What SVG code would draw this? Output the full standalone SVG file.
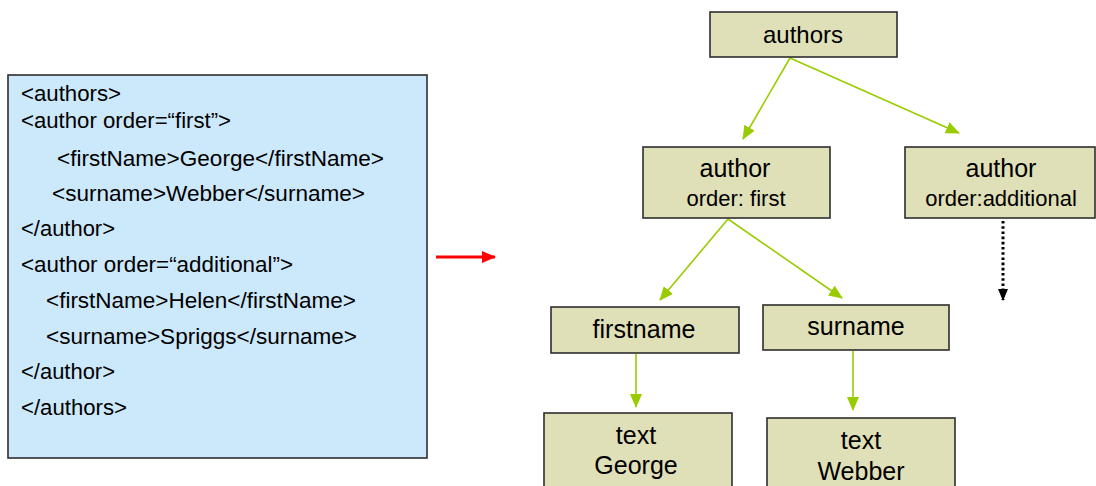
<svg xmlns="http://www.w3.org/2000/svg" width="1096" height="486" viewBox="0 0 1096 486">
  <style>
    .code { font-family: "Liberation Sans", Arial, sans-serif; font-size: 22px; fill: #000; }
    .box { fill: #dfdfb8; stroke: #2e2e2e; stroke-width: 1.6; }
    .lbl { font-family: "Liberation Sans", Arial, sans-serif; font-size: 25px; fill: #000; text-anchor: middle; }
    .sub { font-family: "Liberation Sans", Arial, sans-serif; font-size: 22px; fill: #000; text-anchor: middle; }
    .edge { stroke: #99cc00; stroke-width: 1.6; fill: none; marker-end: url(#greenHead); }
  </style>
  <defs>
    <marker id="greenHead" markerUnits="userSpaceOnUse" markerWidth="14" markerHeight="12" viewBox="0 0 14 12" refX="13" refY="6" orient="auto">
      <path d="M0,0 L14,6 L0,12 Z" fill="#99cc00"/>
    </marker>
    <marker id="redHead" markerUnits="userSpaceOnUse" markerWidth="14" markerHeight="12" viewBox="0 0 14 12" refX="13" refY="6" orient="auto">
      <path d="M0,0 L14,6 L0,12 Z" fill="#ff0000"/>
    </marker>
    <marker id="blackHead" markerUnits="userSpaceOnUse" markerWidth="12" markerHeight="10" viewBox="0 0 12 10" refX="11" refY="5" orient="auto">
      <path d="M0,0 L12,5 L0,10 Z" fill="#000"/>
    </marker>
  </defs>

  <!-- XML source listing -->
  <g id="xml-source">
    <rect x="8" y="75" width="419" height="383" fill="#cce9fb" stroke="#2e2e2e" stroke-width="1.6"/>
    <text class="code" x="21" y="101" textLength="100" lengthAdjust="spacingAndGlyphs">&lt;authors&gt;</text>
    <text class="code" x="21" y="128" textLength="210" lengthAdjust="spacingAndGlyphs">&lt;author order=“first”&gt;</text>
    <text class="code" x="57" y="166" textLength="327" lengthAdjust="spacingAndGlyphs">&lt;firstName&gt;George&lt;/firstName&gt;</text>
    <text class="code" x="52" y="201" textLength="313" lengthAdjust="spacingAndGlyphs">&lt;surname&gt;Webber&lt;/surname&gt;</text>
    <text class="code" x="21" y="236" textLength="94" lengthAdjust="spacingAndGlyphs">&lt;/author&gt;</text>
    <text class="code" x="21" y="272" textLength="272" lengthAdjust="spacingAndGlyphs">&lt;author order=“additional”&gt;</text>
    <text class="code" x="46" y="308" textLength="310" lengthAdjust="spacingAndGlyphs">&lt;firstName&gt;Helen&lt;/firstName&gt;</text>
    <text class="code" x="46" y="344" textLength="311" lengthAdjust="spacingAndGlyphs">&lt;surname&gt;Spriggs&lt;/surname&gt;</text>
    <text class="code" x="21" y="379" textLength="94" lengthAdjust="spacingAndGlyphs">&lt;/author&gt;</text>
    <text class="code" x="21" y="415" textLength="106" lengthAdjust="spacingAndGlyphs">&lt;/authors&gt;</text>
  </g>

  <!-- connectors -->
  <g id="connectors">
    <line x1="436" y1="257" x2="495" y2="257" stroke="#ff0000" stroke-width="3.2" marker-end="url(#redHead)"/>
    <line class="edge" x1="790" y1="58" x2="743" y2="139"/>
    <line class="edge" x1="790" y1="58" x2="959" y2="133"/>
    <line class="edge" x1="728" y1="219" x2="660" y2="300"/>
    <line class="edge" x1="728" y1="219" x2="842" y2="298"/>
    <line class="edge" x1="636" y1="354" x2="636" y2="407"/>
    <line class="edge" x1="853" y1="351" x2="853" y2="410"/>
    <line x1="1003" y1="221" x2="1003" y2="300" stroke="#000" stroke-width="3" stroke-dasharray="2.6 2.6" marker-end="url(#blackHead)"/>
  </g>

  <!-- tree nodes -->
  <g id="node-authors">
    <rect class="box" x="710" y="12" width="187" height="45"/>
    <text class="lbl" x="803" y="43" style="font-size:24px">authors</text>
  </g>
  <g id="node-author-first">
    <rect class="box" x="643" y="147" width="187" height="71"/>
    <text class="lbl" x="735" y="177">author</text>
    <text class="sub" x="736" y="206">order: first</text>
  </g>
  <g id="node-author-additional">
    <rect class="box" x="905" y="147" width="190" height="71"/>
    <text class="lbl" x="1001" y="177">author</text>
    <text class="sub" x="1001" y="206">order:additional</text>
  </g>
  <g id="node-firstname">
    <rect class="box" x="551" y="307" width="188" height="46"/>
    <text class="lbl" x="644" y="338">firstname</text>
  </g>
  <g id="node-surname">
    <rect class="box" x="763" y="305" width="186" height="45"/>
    <text class="lbl" x="856" y="335">surname</text>
  </g>
  <g id="node-text-george">
    <rect class="box" x="544" y="413" width="188" height="80"/>
    <text class="lbl" x="636" y="444">text</text>
    <text class="lbl" x="636" y="474">George</text>
  </g>
  <g id="node-text-webber">
    <rect class="box" x="767" y="418" width="188" height="80"/>
    <text class="lbl" x="861" y="449">text</text>
    <text class="lbl" x="861" y="480">Webber</text>
  </g>
</svg>
